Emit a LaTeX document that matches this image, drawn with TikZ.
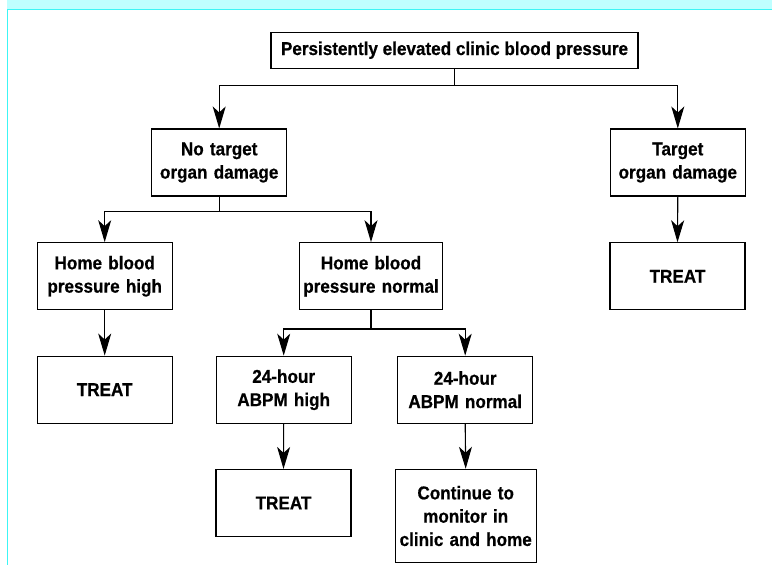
\documentclass[tikz,border=0pt]{standalone}
\usepackage{fontspec}
\newfontfamily\condfont{Liberation Sans}[FakeStretch=0.92,FakeBold=0.6]
\usetikzlibrary{arrows.meta}
\definecolor{bandcyan}{HTML}{BFFFFF}
\definecolor{framecyan}{HTML}{3CF5F5}
\begin{document}
\begin{tikzpicture}[x=1pt,y=-1pt,
  box/.style={draw=black, line width=1.1pt, fill=white, inner sep=2pt, align=center,
    font=\condfont\bfseries\fontsize{18.6}{23.3}\selectfont},
  wbox/.style={box, minimum width=135pt, minimum height=67pt, text width=130pt},
  conn/.style={line width=1.1pt, draw=black},
  arr/.style={conn, -{Stealth[length=22pt,width=13pt,inset=6pt]}}
]
\useasboundingbox (0,0) rectangle (772,565);
\fill[bandcyan] (7,0) rectangle (772,9.5);
\draw[framecyan, line width=1.6pt] (7.6,565) -- (7.6,9.6) -- (772,9.6);

\node[box, minimum width=367pt, minimum height=35.7pt] (top) at (454.5,50.2) {Persistently elevated clinic blood pressure};
\node[wbox] (notd) at (219.2,162.5) {No target\\organ damage};
\node[wbox] (td) at (677.8,162.5) {Target\\organ damage};
\node[wbox] (treatR) at (677.5,276.3) {TREAT};
\node[wbox] (hbh) at (104.7,276.2) {Home blood\\pressure high};
\node[wbox, minimum width=142.6pt, text width=138pt] (hbn) at (371,276.2) {Home blood\\pressure normal};
\node[wbox] (treatL) at (104.7,389.6) {TREAT};
\node[wbox] (ah) at (283.7,389.7) {24-hour\\ABPM high};
\node[wbox] (an) at (465.2,389.7) {24-hour\\ABPM normal};
\node[wbox] (treatM) at (283.5,503) {TREAT};
\node[wbox, minimum width=140.7pt, minimum height=93.4pt, text width=136pt] (cont) at (465.7,516) {Continue to\\monitor in\\clinic and home};

\coordinate (b1) at (0,85.3);
\coordinate (b2) at (0,211.3);
\coordinate (b3) at (0,329);

\draw[conn] (top.south) -- (top.south |- b1);
\draw[arr] (top.south |- b1) -| (notd.north);
\draw[arr] (top.south |- b1) -| (td.north);

\draw[conn] (notd.south) -- (notd.south |- b2);
\draw[arr] (notd.south |- b2) -| (hbh.north);
\draw[arr] (notd.south |- b2) -| (hbn.north);

\draw[conn] (hbn.south) -- (hbn.south |- b3);
\draw[arr] (hbn.south |- b3) -| (ah.north);
\draw[arr] (hbn.south |- b3) -| (an.north);

\draw[arr] (td.south) -- (treatR.north);
\draw[arr] (hbh.south) -- (treatL.north);
\draw[arr] (ah.south) -- (treatM.north);
\draw[arr] (an.south) -- (cont.north);
\end{tikzpicture}
\end{document}
